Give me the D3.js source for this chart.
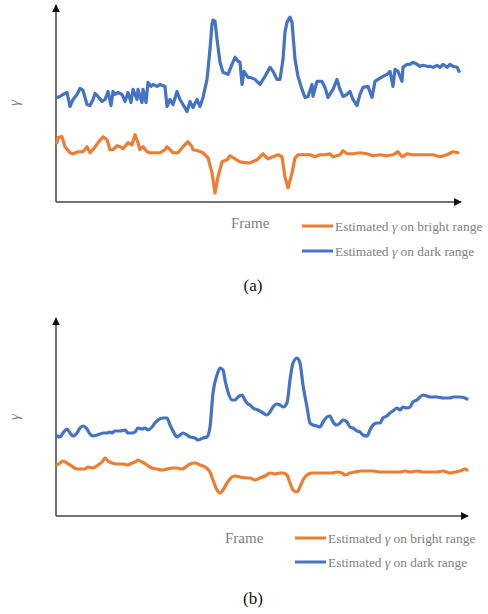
<!DOCTYPE html>
<html><head><meta charset="utf-8">
<script src="https://cdn.jsdelivr.net/npm/d3@7"></script>
<style>body{margin:0;background:#fff}svg{display:block}text{font-family:"Liberation Serif","Times New Roman",Times,serif}</style>
</head><body>
<svg id="c" width="488" height="614"></svg>
<script>
// ---- Panel (a): frame indices and estimated gamma (arbitrary units) ----
const aDarkFrames = [1,4,7,11,14,17,21,24,27,31,34,37,39,42,46,49,52,55,57,59,62,66,69,72,75,77,81,82,86,87,90,92,95,97,101,104,109,111,114,117,121,124,127,131,134,137,141,144,147,151,154,156,157,159,161,164,167,172,176,179,182,184,186,188,192,194,199,204,209,214,217,221,224,227,229,231,234,236,239,242,246,249,252,256,257,261,266,269,272,277,281,284,287,291,294,297,301,304,307,312,316,319,322,327,331,334,337,339,342,346,347,351,354,357,361,364,367,371,374,377,381,384,387,391,394,397,401,403];
const aDarkValues = [104,105,107,109,95,102,107,113,111,97,96,102,108,105,100,102,110,96,110,107,109,107,100,109,99,112,102,112,99,112,99,119,115,117,115,117,115,95,102,97,110,102,97,90,100,94,102,95,104,122,152,177,181,180,162,139,129,127,137,144,140,139,117,130,124,124,122,117,125,134,130,122,122,142,169,179,184,179,142,125,112,104,105,117,105,120,120,114,104,112,122,112,105,107,110,102,96,107,114,115,104,120,122,125,127,130,115,132,130,120,134,137,137,139,137,135,136,135,135,134,136,134,137,134,137,135,134,130];
const aBrightFrames = [1,2,6,9,14,17,22,27,31,34,37,42,47,51,54,57,61,64,67,72,76,79,82,84,87,91,94,97,104,109,111,114,117,122,127,132,136,137,142,147,152,156,159,162,166,171,174,179,184,191,194,201,207,212,217,222,226,229,232,236,239,242,247,254,259,264,269,274,277,284,287,291,297,304,311,317,324,331,337,342,346,351,357,364,371,377,384,391,397,402];
const aBrightValues = [59,64,65,55,49,48,50,50,55,49,52,59,65,62,52,52,56,55,53,59,57,67,59,52,55,50,49,49,49,52,55,52,49,49,55,60,55,52,51,49,44,29,9,25,40,42,46,43,40,39,39,42,48,43,45,47,45,25,14,29,44,47,47,47,45,47,47,48,45,47,51,48,48,49,48,46,47,46,47,50,45,48,47,47,47,47,45,47,50,49];

// ---- Panel (b) ----
const bDarkFrames = [1,4,7,11,14,17,21,24,27,31,34,37,41,44,47,51,54,56,59,64,69,72,76,79,82,86,89,92,96,99,102,107,111,114,117,121,124,127,131,134,139,142,147,151,154,157,161,164,167,169,172,176,179,182,186,189,192,194,197,202,207,211,214,217,221,224,227,231,234,237,241,244,247,251,254,257,261,264,267,271,274,277,281,284,287,291,294,297,301,304,307,311,314,317,321,324,327,331,334,337,341,344,347,351,354,357,361,364,367,371,374,381,387,394,397,404,409,411];
const bDarkValues = [80,79,83,87,83,80,83,88,90,87,82,80,81,82,83,83,84,83,85,85,86,83,83,84,88,87,88,86,89,93,96,98,98,91,85,79,81,83,81,79,78,76,78,79,89,123,141,148,146,136,124,116,116,119,121,116,112,111,108,106,103,101,104,109,112,111,109,113,136,153,158,153,131,109,93,91,90,89,94,99,100,94,91,93,96,94,89,88,85,84,81,80,86,91,93,93,98,100,103,105,108,106,109,108,109,114,116,119,121,120,119,119,118,118,119,119,118,117];
const bBrightFrames = [1,4,7,11,14,17,21,24,29,32,37,42,46,49,52,56,61,67,72,76,79,82,86,91,96,101,106,111,116,121,126,131,134,139,144,149,154,157,161,164,167,171,176,179,184,191,194,199,204,209,214,219,224,227,231,234,237,241,244,247,251,256,261,266,271,276,281,286,289,294,299,304,311,317,324,331,337,344,349,354,361,367,374,381,387,394,399,404,409,411];
const bBrightValues = [51,53,55,53,51,49,47,47,47,49,48,51,54,58,55,53,52,52,51,53,54,56,54,51,48,47,46,47,48,48,47,50,52,53,51,49,44,36,26,23,26,33,39,40,39,38,38,36,38,40,43,42,43,43,41,33,26,24,29,36,41,43,43,43,43,43,44,43,41,43,44,45,45,45,44,44,44,44,45,44,45,44,44,44,45,43,44,45,47,46];

const xLabel = "Frame";
const legendLabels = ["Estimated \u03B3 on bright range", "Estimated \u03B3 on dark range"];
const panelTags = ["(a)", "(b)"];

const ORANGE = "#ED7D31", BLUE = "#4472C4";
const svg = d3.select("#c");
svg.append("defs").append("marker")
  .attr("id","arr").attr("viewBox","0 0 10 10").attr("refX",9).attr("refY",5)
  .attr("markerWidth",8).attr("markerHeight",8).attr("markerUnits","userSpaceOnUse")
  .attr("orient","auto")
  .append("path").attr("d","M0,0 L10,5 L0,10 Z").attr("fill","#111");

function panel(cfg) {
  const x = d3.scaleLinear().domain(cfg.xDomain).range([cfg.left, cfg.right]);
  const y = d3.scaleLinear().domain([0, cfg.yMax]).range([cfg.bottom, cfg.top]);
  const g = svg.append("g");
  g.append("line").attr("x1", cfg.left).attr("x2", cfg.left).attr("y1", cfg.bottom).attr("y2", cfg.top)
    .attr("stroke","#444").attr("stroke-width",1.5).attr("marker-end","url(#arr)");
  g.append("line").attr("x1", cfg.left).attr("x2", cfg.arrowX).attr("y1", cfg.bottom).attr("y2", cfg.bottom)
    .attr("stroke","#444").attr("stroke-width",1.5).attr("marker-end","url(#arr)");
  const line = d3.line().x(d => x(d[0])).y(d => y(d[1])).curve(cfg.curve);
  [[cfg.bF, cfg.bV, ORANGE], [cfg.dF, cfg.dV, BLUE]].forEach(([f, v, c]) => {
    g.append("path").datum(f.map((fr, i) => [fr, v[i]]))
      .attr("d", line).attr("fill","none").attr("stroke", c)
      .attr("stroke-width", 3.2).attr("stroke-linejoin","round").attr("stroke-linecap","round");
  });
  g.append("text").attr("transform", `translate(${cfg.gx},${cfg.gy}) rotate(-90)`)
    .attr("text-anchor","middle").attr("dominant-baseline","central")
    .attr("font-style","italic").attr("font-size",15).attr("fill","#7f7f7f").text("\u03B3");
  g.append("text").attr("x", cfg.frameX).attr("y", cfg.frameY)
    .attr("font-size",15).attr("fill","#7f7f7f").text(xLabel);
  [ORANGE, BLUE].forEach((c, i) => {
    const ly = cfg.legY + i * cfg.legGap;
    g.append("line").attr("x1", cfg.legX).attr("x2", cfg.legX + 31).attr("y1", ly).attr("y2", ly)
      .attr("stroke", c).attr("stroke-width", 3);
    const t = g.append("text").attr("x", cfg.legX + 33).attr("y", ly + 4.5)
      .attr("font-size",13.4).attr("fill","#7f7f7f");
    const parts = legendLabels[i].split("\u03B3");
    t.append("tspan").text(parts[0]);
    t.append("tspan").attr("font-style","italic").text("\u03B3");
    t.append("tspan").text(parts[1]);
  });
  g.append("text").attr("x", 253).attr("y", cfg.tagY).attr("text-anchor","middle")
    .attr("font-size",17).attr("fill","#111").text(cfg.tag);
}

panel({xDomain:[0,404], left:56, right:460, arrowX:461, yMax:196, bottom:202, top:5,
  dF:aDarkFrames, dV:aDarkValues, bF:aBrightFrames, bV:aBrightValues, curve:d3.curveLinear,
  gx:14, gy:103, frameX:231, frameY:228, legX:302, legY:226, legGap:25, tag:panelTags[0], tagY:291});
panel({xDomain:[0,411], left:56, right:467, arrowX:468, yMax:198, bottom:516, top:318,
  dF:bDarkFrames, dV:bDarkValues, bF:bBrightFrames, bV:bBrightValues, curve:d3.curveMonotoneX,
  gx:14, gy:417, frameX:225, frameY:543, legX:295, legY:538, legGap:24, tag:panelTags[1], tagY:604});
</script>
</body></html>
